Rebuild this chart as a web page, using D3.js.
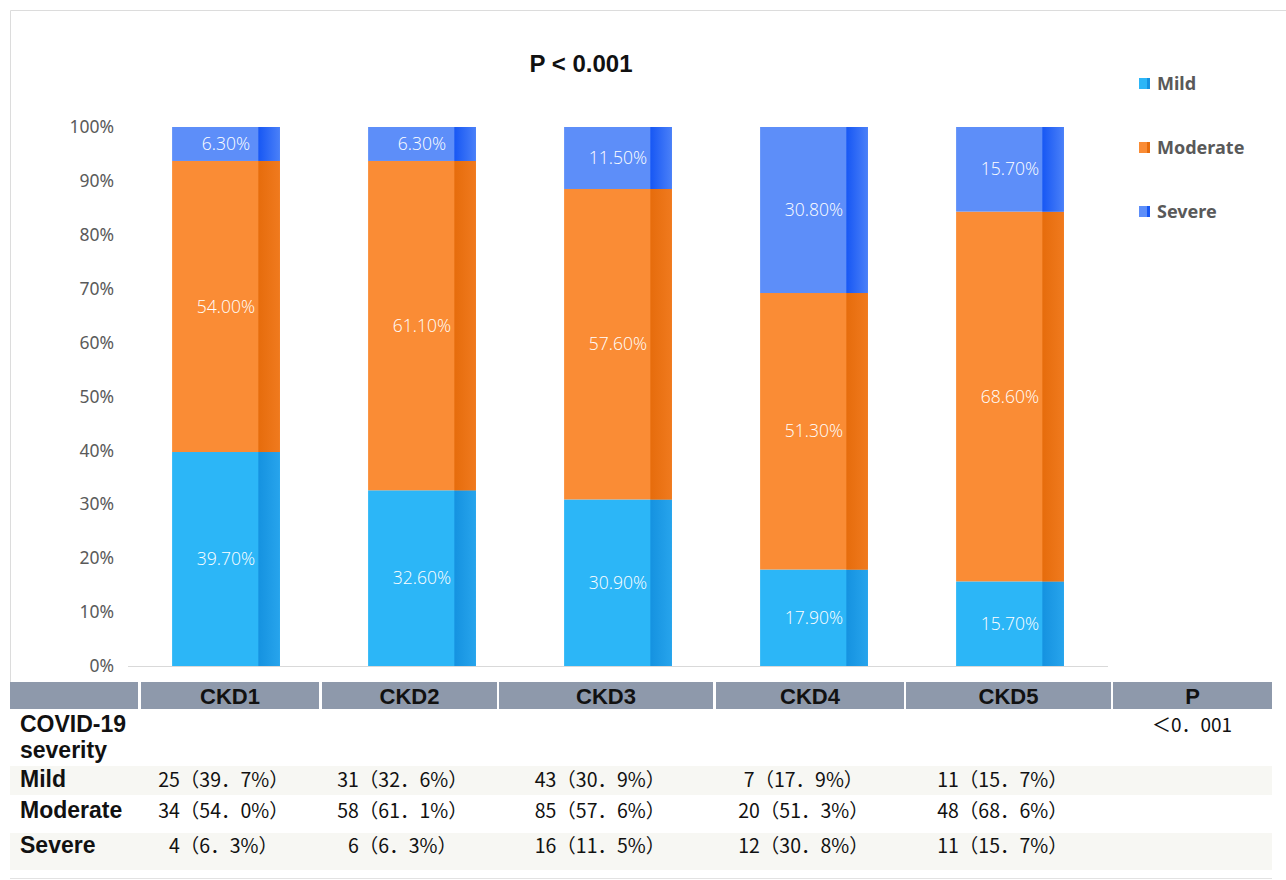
<!DOCTYPE html>
<html>
<head>
<meta charset="utf-8">
<script src="https://cdn.jsdelivr.net/npm/d3@7"></script>
<style>
  html, body { margin: 0; padding: 0; background: #fff; }
  svg { display: block; }
</style>
</head>
<body>
<svg id="chart" width="1286" height="880"></svg>
<script>
// ---- data ----
const categories = ["CKD1", "CKD2", "CKD3", "CKD4", "CKD5"];
const seriesNames = ["Mild", "Moderate", "Severe"];
const mildPct = [39.7, 32.6, 30.9, 17.9, 15.7];
const moderatePct = [54.0, 61.1, 57.6, 51.3, 68.6];
const severePct = [6.3, 6.3, 11.5, 30.8, 15.7];
const mildCount = [25, 31, 43, 7, 11];
const moderateCount = [34, 58, 85, 20, 48];
const severeCount = [4, 6, 16, 12, 11];
const yTicks = [0, 10, 20, 30, 40, 50, 60, 70, 80, 90, 100];
const titleText = "P < 0.001";
const pHeader = "P";
const pValueText = "＜0．001";
const rowHeader = ["COVID-19", "severity"];

// ---- styles ----
const fills = {
  Mild: { main: "#2cb6f7", strip: "#1592e0", stripEdge: "#27a4ec" },
  Moderate: { main: "#fa8c35", strip: "#e66c0c", stripEdge: "#f07a1e" },
  Severe: { main: "#5d8ef9", strip: "#1757f4", stripEdge: "#4a80f8" }
};

const svg = d3.select("#chart");
const defs = svg.append("defs");
seriesNames.forEach(s => {
  const g = defs.append("linearGradient").attr("id", "strip-" + s)
    .attr("x1", "0%").attr("x2", "100%");
  g.append("stop").attr("offset", "0%").attr("stop-color", fills[s].strip);
  g.append("stop").attr("offset", "100%").attr("stop-color", fills[s].stripEdge);
});

// frame
svg.append("path")
  .attr("d", "M10.5,682 V10.5 H1286")
  .attr("fill", "none").attr("stroke", "#dcdcdc").attr("stroke-width", 1);

// ---- scales ----
const plot = { left: 128, right: 1108, top: 127, bottom: 666 };
const x = d3.scaleBand().domain(categories)
  .range([plot.left, plot.right]).paddingInner(0.45).paddingOuter(0.225);
const y = d3.scaleLinear().domain([0, 100]).range([plot.bottom, plot.top]);

// stacked data
const rows = categories.map((c, i) => ({
  cat: c, Mild: mildPct[i], Moderate: moderatePct[i], Severe: severePct[i]
}));
const stacked = d3.stack().keys(seriesNames)(rows);

// y axis labels
const yAxis = svg.append("g").attr("transform", `translate(${plot.left - 11},0)`)
  .call(d3.axisLeft(y).tickValues(yTicks).tickFormat(d => d + "%").tickSize(0));
yAxis.select(".domain").remove();
yAxis.selectAll("text")
  .attr("font-family", "'Noto Sans', 'Open Sans', sans-serif")
  .attr("font-size", 17.5).attr("fill", "#5a5a5a");

// baseline
svg.append("line")
  .attr("x1", plot.left).attr("x2", plot.right)
  .attr("y1", y(0) + 0.5).attr("y2", y(0) + 0.5)
  .attr("stroke", "#d9d9d9").attr("stroke-width", 1);

// bars
const bw = x.bandwidth();
const stripW = bw * 0.2;
const layers = svg.append("g").selectAll("g").data(stacked).join("g");
layers.each(function (layer) {
  const g = d3.select(this);
  const key = layer.key;
  g.selectAll("rect.main").data(layer).join("rect")
    .attr("class", "main")
    .attr("x", d => x(d.data.cat))
    .attr("y", d => y(d[1]))
    .attr("width", bw)
    .attr("height", d => y(d[0]) - y(d[1]))
    .attr("fill", fills[key].main);
  g.selectAll("rect.strip").data(layer).join("rect")
    .attr("class", "strip")
    .attr("x", d => x(d.data.cat) + bw - stripW)
    .attr("y", d => y(d[1]))
    .attr("width", stripW)
    .attr("height", d => y(d[0]) - y(d[1]))
    .attr("fill", `url(#strip-${key})`);
  g.selectAll("text").data(layer).join("text")
    .attr("x", d => x(d.data.cat) + bw / 2)
    .attr("y", d => (y(d[0]) + y(d[1])) / 2)
    .attr("dy", "0.35em")
    .attr("text-anchor", "middle")
    .attr("font-family", "'Open Sans', 'Noto Sans', sans-serif")
    .attr("font-weight", 300)
    .attr("font-size", 17.5)
    .attr("fill", "#ffffff")
    .text(d => d.data[key].toFixed(2) + "%");
});

// title
svg.append("text")
  .attr("x", 581).attr("y", 72)
  .attr("text-anchor", "middle")
  .attr("font-family", "'Liberation Sans', Arial, sans-serif")
  .attr("font-weight", "bold").attr("font-size", 24).attr("fill", "#111")
  .text(titleText);

// legend
const legend = svg.append("g").attr("transform", "translate(1139,78)");
seriesNames.forEach((s, i) => {
  const lg = legend.append("g").attr("transform", `translate(0,${i * 64})`);
  lg.append("rect").attr("width", 11).attr("height", 11).attr("fill", fills[s].main);
  lg.append("rect").attr("x", 8).attr("width", 3).attr("height", 11).attr("fill", fills[s].strip);
  lg.append("text").attr("x", 18).attr("y", 12)
    .attr("font-family", "'Noto Sans', 'Open Sans', sans-serif")
    .attr("font-weight", "bold").attr("font-size", 18).attr("fill", "#595959")
    .text(s);
});

// ---- table ----
const table = svg.append("g");
const headerCells = [
  { x0: 10, x1: 138, label: "" },
  ...categories.map((c, i) => ({ x0: [141, 322, 499, 716, 906][i], x1: [319, 497, 713, 904, 1111][i], label: c })),
  { x0: 1113, x1: 1272, label: pHeader }
];
const headerTop = 682, headerBottom = 709;

// striped row bands
table.append("rect").attr("x", 10).attr("y", 766).attr("width", 1262).attr("height", 29).attr("fill", "#f7f7f3");
table.append("rect").attr("x", 10).attr("y", 833).attr("width", 1262).attr("height", 37).attr("fill", "#f7f7f3");
table.append("line").attr("x1", 10).attr("x2", 1272).attr("y1", 878.5).attr("y2", 878.5)
  .attr("stroke", "#e2e2e2");

table.selectAll("rect.head").data(headerCells).join("rect")
  .attr("class", "head")
  .attr("x", d => d.x0).attr("y", headerTop)
  .attr("width", d => d.x1 - d.x0).attr("height", headerBottom - headerTop)
  .attr("fill", "#8e99ab");
table.selectAll("text.head").data(headerCells).join("text")
  .attr("class", "head")
  .attr("x", d => (d.x0 + d.x1) / 2).attr("y", 703.5)
  .attr("text-anchor", "middle")
  .attr("font-family", "'Liberation Sans', Arial, sans-serif")
  .attr("font-weight", "bold").attr("font-size", 22).attr("fill", "#111")
  .text(d => d.label);

const boldLabel = (txt, yy) => table.append("text")
  .attr("x", 20).attr("y", yy)
  .attr("font-family", "'Liberation Sans', Arial, sans-serif")
  .attr("font-weight", "bold").attr("font-size", 23).attr("fill", "#111")
  .text(txt);
boldLabel(rowHeader[0], 732);
boldLabel(rowHeader[1], 758);

table.append("text")
  .attr("x", 1192).attr("y", 732).attr("text-anchor", "middle")
  .attr("font-family", "'Noto Sans CJK SC', sans-serif")
  .attr("font-size", 19).attr("fill", "#111")
  .text(pValueText);

const valueCenters = [223.5, 402.5, 600, 803.5, 1002.5];
const tableRows = [
  { name: "Mild", counts: mildCount, pcts: mildPct, base: 787 },
  { name: "Moderate", counts: moderateCount, pcts: moderatePct, base: 818 },
  { name: "Severe", counts: severeCount, pcts: severePct, base: 853 }
];
tableRows.forEach(r => {
  boldLabel(r.name, r.base);
  table.append("g").selectAll("text").data(categories).join("text")
    .attr("x", (c, i) => valueCenters[i]).attr("y", r.base)
    .attr("text-anchor", "middle")
    .attr("font-family", "'Noto Sans CJK SC', sans-serif")
    .attr("font-size", 19.5).attr("fill", "#111")
    .text((c, i) => `${r.counts[i]}（${r.pcts[i].toFixed(1).replace(".", "．")}%）`);
});
</script>
</body>
</html>
